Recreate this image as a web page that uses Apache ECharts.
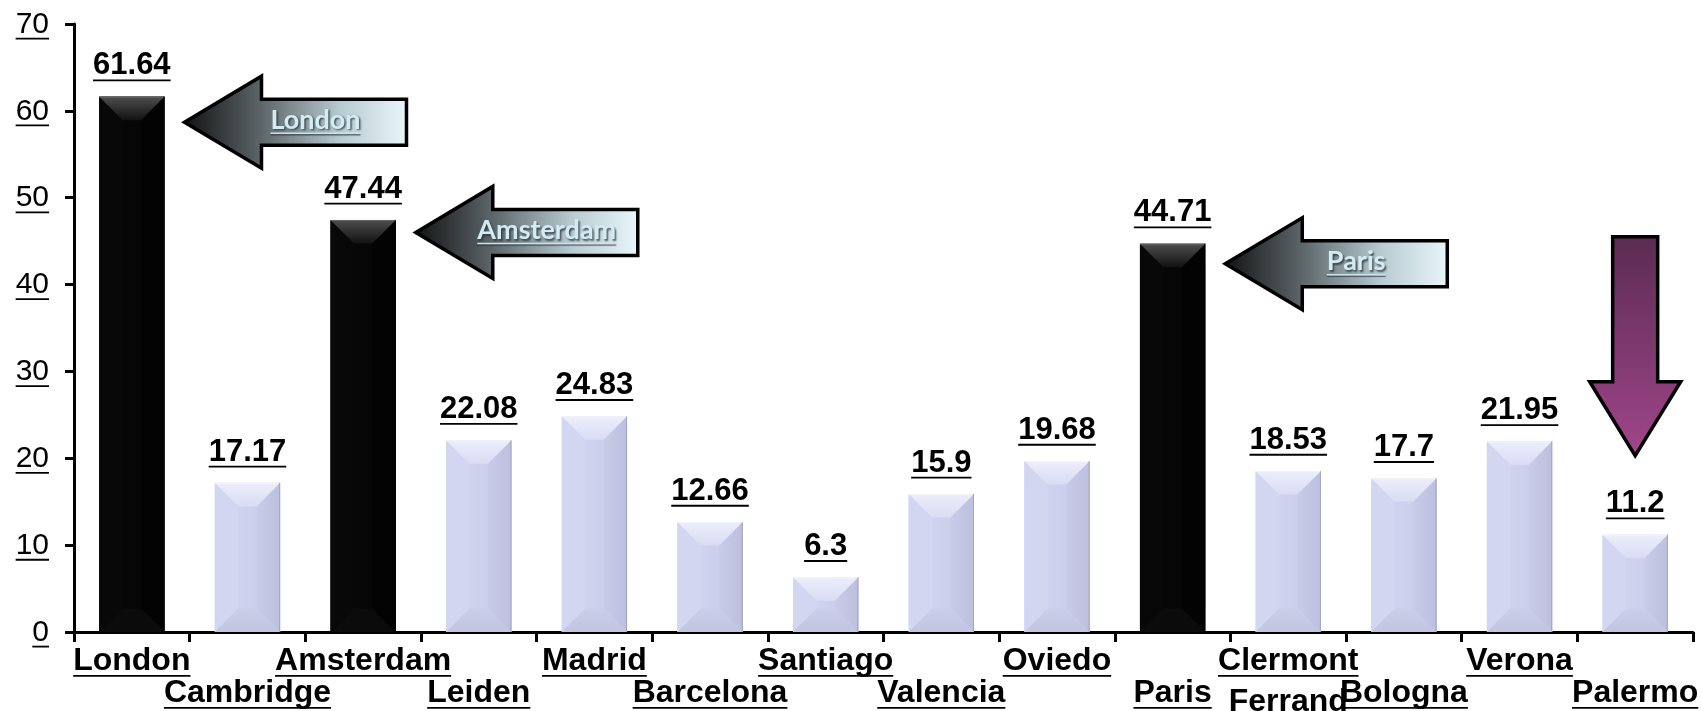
<!DOCTYPE html>
<html>
<head>
<meta charset="utf-8">
<title>Cities</title>
<script src="https://cdn.jsdelivr.net/npm/echarts@6/dist/echarts.min.js"></script>
<style>
  html, body { margin: 0; padding: 0; background: #fff; }
  #chart { width: 1702px; height: 711px; }
</style>
</head>
<body>
<div id="chart"></div>
<script>
// Categories and their values
const categories = ['London', 'Cambridge', 'Amsterdam', 'Leiden', 'Madrid', 'Barcelona', 'Santiago',
  'Valencia', 'Oviedo', 'Paris', 'Clermont\nFerrand', 'Bologna', 'Verona', 'Palermo'];
const values = [61.64, 17.17, 47.44, 22.08, 24.83, 12.66, 6.3, 15.9, 19.68, 44.71, 18.53, 17.7, 21.95, 11.2];
const highlighted = ['London', 'Amsterdam', 'Paris'];
const yTicks = [0, 10, 20, 30, 40, 50, 60, 70];

// Left-pointing callouts: category index, level they point at, caption
const calloutCats = [0, 2, 9];
const calloutLevels = [58.7, 46.0, 42.4];
const calloutNames = ['London', 'Amsterdam', 'Paris'];

// Downward arrow over the last city: category, start level, tip level
const dropCat = [13];
const dropFrom = [45.5];
const dropTo = [20.3];

const FONT = '"Liberation Sans", Arial, sans-serif';
const measureCtx = document.createElement('canvas').getContext('2d');
function textWidth(text, font) {
  measureCtx.font = font;
  return measureCtx.measureText(text).width;
}

// Text with a drawn underline; y is the baseline
function underlined(text, x, y, size, weight, color, align) {
  const font = weight + ' ' + size + 'px ' + FONT;
  const w = textWidth(text, font);
  let left = x;
  if (align === 'center') left = x - w / 2;
  else if (align === 'right') left = x - w;
  return [
    {
      type: 'text',
      style: {
        text: text, x: x, y: y - 0.35 * size,
        fill: color, fontSize: size, fontWeight: weight, fontFamily: FONT,
        align: align, verticalAlign: 'middle'
      }
    },
    {
      type: 'line',
      shape: { x1: left, y1: y + size * 0.12, x2: left + w, y2: y + size * 0.12 },
      style: { stroke: color, lineWidth: Math.max(1.5, size * 0.06) }
    }
  ];
}

const lightPal = {
  face: new echarts.graphic.LinearGradient(0, 0, 1, 0, [
    { offset: 0, color: '#d4d7f2' }, { offset: 1, color: '#c8cbe8' }]),
  top: new echarts.graphic.LinearGradient(0, 0, 0, 1, [
    { offset: 0, color: '#eceefb' }, { offset: 1, color: '#d9dcf4' }]),
  left: '#d3d6f1',
  right: new echarts.graphic.LinearGradient(0, 0, 1, 0, [
    { offset: 0, color: '#c9cce8' }, { offset: 1, color: '#bcbfdd' }]),
  bottom: new echarts.graphic.LinearGradient(0, 0, 0, 1, [
    { offset: 0, color: '#cbcee9' }, { offset: 1, color: '#c2c5e2' }]),
  edge: '#a3a6c2', rim: '#f2f3fd'
};
const darkPal = {
  face: '#060606',
  top: new echarts.graphic.LinearGradient(0, 0, 0, 1, [
    { offset: 0, color: '#4e4e4e' }, { offset: 1, color: '#121212' }]),
  left: '#080808', right: '#030303', bottom: '#0b0b0b', edge: '#000000', rim: '#6a6a6a'
};

function barItem(params, api) {
  const i = api.value(0);
  const v = api.value(1);
  const top = api.coord([i, v]);
  const base = api.coord([i, 0]);
  const band = api.size([1, 0])[0];
  const w = band * 0.565;
  const x0 = top[0] - w / 2, x1 = top[0] + w / 2;
  const y0 = top[1], y1 = base[1];
  const h = y1 - y0;
  const d = Math.min(w * 0.36, h / 2);
  const pal = highlighted.indexOf(categories[i]) >= 0 ? darkPal : lightPal;

  const children = [
    { type: 'rect', shape: { x: x0, y: y0, width: w, height: h }, style: { fill: pal.face } },
    { type: 'polygon', shape: { points: [[x0, y0], [x0 + d, y0 + d], [x0 + d, y1 - d], [x0, y1]] }, style: { fill: pal.left } },
    { type: 'polygon', shape: { points: [[x1, y0], [x1 - d, y0 + d], [x1 - d, y1 - d], [x1, y1]] }, style: { fill: pal.right } },
    { type: 'polygon', shape: { points: [[x0, y1], [x1, y1], [x1 - d, y1 - d], [x0 + d, y1 - d]] }, style: { fill: pal.bottom } },
    { type: 'polygon', shape: { points: [[x0, y0], [x1, y0], [x1 - d, y0 + d], [x0 + d, y0 + d]] }, style: { fill: pal.top } },
    { type: 'line', shape: { x1: x0, y1: y0 + 0.5, x2: x1, y2: y0 + 0.5 }, style: { stroke: pal.rim, lineWidth: 1 } },
    { type: 'line', shape: { x1: x1 - 0.5, y1: y0, x2: x1 - 0.5, y2: y1 }, style: { stroke: pal.edge, lineWidth: 1 } }
  ];

  // value above the bar
  underlined(String(v), top[0], y0 - 20, 31, 'bold', '#000', 'center').forEach(c => children.push(c));

  // category name below the axis, alternating rows
  const lines = categories[i].split('\n');
  const row = i % 2;
  lines.forEach((ln, k) => {
    const r = row + k;
    const baseline = base[1] + 40 + r * 32 + (k > 0 ? 9 : 0);
    underlined(ln, top[0], baseline, 32, 'bold', '#000', 'center').forEach(c => children.push(c));
  });

  return { type: 'group', children: children };
}

function yLabelItem(params, api) {
  const v = api.value(1);
  const p = api.coord([0, v]);
  const band = api.size([1, 0])[0];
  const axisX = p[0] - band / 2;
  return { type: 'group', children: underlined(String(v), axisX - 25, p[1] + 11, 30, 'normal', '#000', 'right') };
}

const arrowFill = new echarts.graphic.LinearGradient(0, 0, 1, 0, [
  { offset: 0, color: '#111111' },
  { offset: 0.35, color: '#5d6669' },
  { offset: 0.7, color: '#b7cbd1' },
  { offset: 1, color: '#eaf7fb' }
]);

function calloutItem(params, api) {
  const i = api.value(0);
  const lvl = api.value(1);
  const p = api.coord([i, lvl]);
  const band = api.size([1, 0])[0];
  const tx = p[0] + band * 0.565 / 2 + 20;
  const ty = p[1];
  const len = 222, head = 77, hh = 46, sh = 23;
  const pts = [[tx, ty], [tx + head, ty - hh], [tx + head, ty - sh], [tx + len, ty - sh],
    [tx + len, ty + sh], [tx + head, ty + sh], [tx + head, ty + hh]];
  const name = calloutNames[params.dataIndex];
  const size = 27;
  const font = 'bold ' + size + 'px Lato, "Open Sans", sans-serif';
  const w = textWidth(name, font);
  const cx = tx + len * 0.59;
  const cy = ty - 2;
  return {
    type: 'group',
    children: [
      { type: 'polygon', shape: { points: pts },
        style: { fill: arrowFill, stroke: '#000', lineWidth: 3.5, lineJoin: 'miter' } },
      { type: 'text', style: {
          text: name, x: cx, y: cy, fill: '#d3ecf4', fontSize: size, fontWeight: 'bold',
          fontFamily: 'Lato, "Open Sans", sans-serif', align: 'center', verticalAlign: 'middle',
          textShadowColor: 'rgba(40,50,55,0.8)', textShadowBlur: 2, textShadowOffsetX: 1.5, textShadowOffsetY: 1.5 } },
      { type: 'line', shape: { x1: cx - w / 2, y1: cy + 13, x2: cx + w / 2, y2: cy + 13 },
        style: { stroke: '#c9e3eb', lineWidth: 1.5, shadowColor: 'rgba(40,50,55,0.7)', shadowOffsetY: 1.5, shadowBlur: 1 } }
    ]
  };
}

function dropItem(params, api) {
  const i = api.value(0);
  const a = api.coord([i, api.value(1)]);
  const b = api.coord([i, api.value(2)]);
  const x = a[0], yTop = a[1], yTip = b[1];
  const sw = 22.5, hw = 45.5, headLen = 74;
  const yb = yTip - headLen;
  const pts = [[x - sw, yTop], [x + sw, yTop], [x + sw, yb], [x + hw, yb], [x, yTip], [x - hw, yb], [x - sw, yb]];
  return {
    type: 'polygon',
    shape: { points: pts },
    style: {
      fill: new echarts.graphic.LinearGradient(0, 0, 0, 1, [
        { offset: 0, color: '#5b2b53' }, { offset: 1, color: '#a0468a' }]),
      stroke: '#000', lineWidth: 3.5, lineJoin: 'miter'
    }
  };
}

const chart = echarts.init(document.getElementById('chart'), null, { renderer: 'canvas' });
chart.setOption({
  animation: false,
  backgroundColor: '#fff',
  grid: { left: 74, right: 9, top: 24, bottom: 79, containLabel: false },
  xAxis: {
    type: 'category',
    data: categories,
    boundaryGap: true,
    axisLine: { lineStyle: { color: '#000', width: 3 } },
    axisTick: { show: true, length: 10, lineStyle: { color: '#000', width: 3 } },
    axisLabel: { show: false },
    splitLine: { show: false }
  },
  yAxis: {
    type: 'value',
    min: 0, max: 70, interval: 10,
    axisLine: { show: true, lineStyle: { color: '#000', width: 3 } },
    axisTick: { show: true, length: 9, lineStyle: { color: '#000', width: 3 } },
    axisLabel: { show: false },
    splitLine: { show: false }
  },
  series: [
    {
      type: 'custom', clip: false, z: 2,
      renderItem: barItem,
      encode: { x: 0, y: 1 },
      data: values.map((v, i) => [i, v])
    },
    {
      type: 'custom', clip: false, z: 2,
      renderItem: yLabelItem,
      encode: { x: 0, y: 1 },
      data: yTicks.map(t => [0, t])
    },
    {
      type: 'custom', clip: false, z: 3,
      renderItem: calloutItem,
      encode: { x: 0, y: 1 },
      data: calloutCats.map((c, k) => [c, calloutLevels[k]])
    },
    {
      type: 'custom', clip: false, z: 3,
      renderItem: dropItem,
      encode: { x: 0, y: [1, 2] },
      data: dropCat.map((c, k) => [c, dropFrom[k], dropTo[k]])
    }
  ]
});
</script>
</body>
</html>
